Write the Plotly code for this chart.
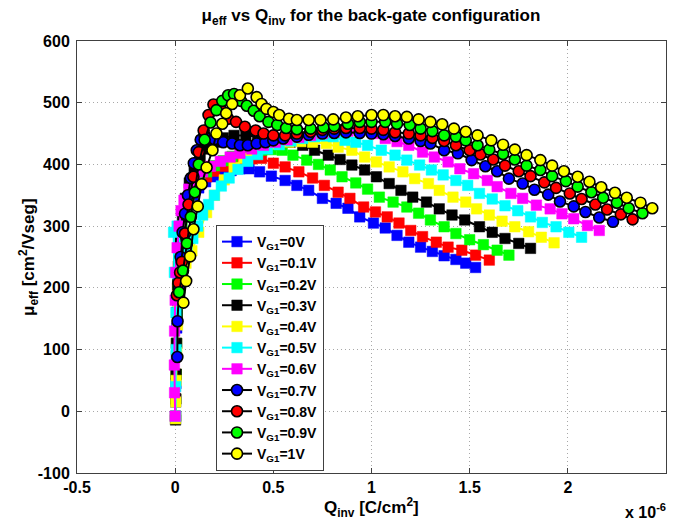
import plotly.graph_objects as go

# Inversion charge in units of 1e-6 C/cm^2, effective mobility in cm^2/Vs
q_0v = [0.002, 0.003, 0.004, 0.006, 0.008, 0.011, 0.015, 0.021, 0.03, 0.045, 0.065, 0.09, 0.12, 0.155, 0.195,
        0.24, 0.285, 0.33, 0.376, 0.43, 0.49, 0.56, 0.62, 0.68, 0.75, 0.82, 0.88, 0.94, 1.01, 1.07, 1.13, 1.19,
        1.25, 1.31, 1.37, 1.43, 1.48, 1.53]
mu_0v = [-8, 15, 45, 90, 135, 180, 220, 255, 288, 315, 335, 350, 362, 372, 380, 386, 390, 393, 393, 388, 381, 374,
         366, 358, 345, 337, 329, 315, 305, 297, 285, 274, 266, 259, 252, 246, 240, 233]

q_01v = [0.002, 0.003, 0.005, 0.007, 0.009, 0.012, 0.016, 0.022, 0.032, 0.047, 0.068, 0.094, 0.125, 0.16, 0.2,
         0.245, 0.29, 0.34, 0.39, 0.44, 0.5, 0.56, 0.63, 0.7, 0.76, 0.83, 0.89, 0.96, 1.02, 1.08, 1.14, 1.2, 1.26,
         1.33, 1.39, 1.46, 1.53, 1.6]
mu_01v = [-8, 20, 60, 110, 160, 200, 235, 265, 295, 320, 340, 355, 368, 380, 389, 397, 403, 407, 409, 410, 402,
          396, 388, 378, 366, 355, 345, 331, 323, 315, 305, 293, 283, 274, 266, 261, 253, 245]

q_02v = [0.002, 0.003, 0.005, 0.007, 0.01, 0.013, 0.018, 0.025, 0.035, 0.05, 0.07, 0.095, 0.125, 0.16, 0.2, 0.245,
         0.29, 0.34, 0.39, 0.44, 0.49, 0.545, 0.6, 0.67, 0.73, 0.79, 0.85, 0.92, 0.98, 1.04, 1.11, 1.18, 1.24, 1.3,
         1.37, 1.43, 1.5, 1.57, 1.64, 1.7]
mu_02v = [-8, 20, 60, 110, 160, 205, 240, 270, 300, 325, 345, 362, 376, 388, 398, 406, 413, 418, 421, 423, 424,
          423, 415, 407, 400, 391, 380, 370, 360, 347, 339, 331, 321, 310, 299, 288, 278, 270, 261, 253]

q_03v = [0.002, 0.003, 0.005, 0.007, 0.01, 0.014, 0.019, 0.026, 0.037, 0.052, 0.072, 0.097, 0.127, 0.16, 0.2,
         0.245, 0.3, 0.36, 0.42, 0.47, 0.53, 0.585, 0.65, 0.71, 0.78, 0.84, 0.9, 0.965, 1.025, 1.09, 1.15, 1.21,
         1.28, 1.345, 1.41, 1.475, 1.55, 1.615, 1.68, 1.75, 1.81]
mu_03v = [-14, 20, 60, 110, 160, 205, 245, 280, 315, 345, 370, 392, 410, 425, 436, 443, 447, 447, 445, 442, 439,
          436, 431, 423, 415, 408, 399, 391, 380, 369, 358, 347, 339, 328, 318, 310, 299, 290, 280, 272, 264]

q_04v = [0.002, 0.003, 0.005, 0.008, 0.012, 0.018, 0.026, 0.038, 0.055, 0.085, 0.12, 0.16, 0.2, 0.25, 0.3, 0.35,
         0.4, 0.46, 0.52, 0.58, 0.64, 0.7, 0.77, 0.83, 0.9, 0.965, 1.025, 1.09, 1.16, 1.22, 1.29, 1.345, 1.415,
         1.48, 1.535, 1.6, 1.665, 1.73, 1.8, 1.865, 1.93]
mu_04v = [-12, 15, 50, 95, 140, 175, 205, 225, 240, 260, 290, 322, 350, 375, 395, 410, 420, 428, 433, 436, 437,
          436, 434, 428, 423, 412, 404, 396, 388, 377, 369, 358, 347, 339, 328, 318, 308, 299, 291, 282, 273]

q_05v = [0.002, 0.003, 0.005, 0.004, -0.004, -0.008, 0.01, 0.03, 0.06, 0.09, 0.115, 0.14, 0.17, 0.2, 0.235, 0.275,
         0.32, 0.37, 0.42, 0.47, 0.53, 0.59, 0.65, 0.71, 0.76, 0.805, 0.865, 0.92, 0.98, 1.05, 1.12, 1.18, 1.245,
         1.305, 1.365, 1.43, 1.49, 1.55, 1.615, 1.68, 1.745, 1.81, 1.87, 1.94, 2.005, 2.07]
mu_05v = [-8, 40, 100, 160, 225, 290, 300, 260, 262, 280, 300, 318, 335, 350, 365, 378, 392, 405, 416, 425, 432,
          438, 442, 445, 446, 445, 439, 436, 431, 423, 415, 407, 399, 391, 383, 374, 366, 353, 344, 333, 325, 315,
          306, 299, 290, 282]

q_06v = [0.0, -0.003, -0.004, -0.003, 0.0, 0.003, 0.01, 0.02, 0.03, 0.045, 0.07, 0.1, 0.14, 0.18, 0.23, 0.28, 0.33,
         0.39, 0.45, 0.51, 0.57, 0.63, 0.69, 0.75, 0.81, 0.88, 0.94, 1.01, 1.07, 1.13, 1.19, 1.26, 1.32, 1.39, 1.45,
         1.52, 1.59, 1.64, 1.71, 1.77, 1.84, 1.91, 1.97, 2.03, 2.1, 2.16]
mu_06v = [-8, 30, 75, 130, 180, 225, 265, 300, 325, 342, 360, 375, 388, 397, 405, 412, 418, 425, 431, 436, 440,
          444, 447, 450, 452, 454, 455, 450, 442, 437, 431, 420, 412, 404, 393, 385, 374, 364, 353, 345, 334, 328,
          320, 312, 301, 293]

q_07v = [0.011, 0.012, 0.02, 0.028, 0.038, 0.05, 0.065, 0.08, 0.095, 0.11, 0.13, 0.15, 0.2, 0.245, 0.29, 0.33,
         0.37, 0.415, 0.46, 0.5, 0.55, 0.62, 0.68, 0.75, 0.81, 0.87, 0.94, 1.0, 1.06, 1.12, 1.19, 1.25, 1.3, 1.37,
         1.44, 1.51, 1.58, 1.64, 1.7, 1.77, 1.83, 1.9, 1.96, 2.03, 2.09, 2.16, 2.23]
mu_07v = [88, 146, 200, 250, 290, 320, 350, 378, 402, 423, 440, 447, 441, 436, 434, 431, 431, 434, 436, 439, 442,
          445, 448, 450, 451, 452, 451, 450, 449, 446, 442, 438, 434, 423, 418, 407, 397, 389, 377, 369, 359, 351,
          340, 332, 323, 314, 307]

q_08v = [0.009, 0.017, 0.025, 0.034, 0.05, 0.068, 0.093, 0.12, 0.145, 0.17, 0.195, 0.23, 0.27, 0.31, 0.355, 0.41,
         0.45, 0.5, 0.56, 0.62, 0.69, 0.75, 0.81, 0.87, 0.94, 1.0, 1.06, 1.12, 1.19, 1.25, 1.31, 1.37, 1.43, 1.5,
         1.555, 1.62, 1.68, 1.75, 1.81, 1.88, 1.94, 2.01, 2.07, 2.14, 2.2, 2.27, 2.33]
mu_08v = [188, 208, 225, 242, 288, 335, 380, 420, 455, 480, 497, 490, 474, 469, 461, 455, 450, 447, 447, 450, 453,
          456, 458, 459, 459, 458, 456, 452, 450, 447, 443, 438, 431, 423, 416, 408, 398, 389, 381, 371, 362, 353,
          344, 335, 327, 319, 311]

q_09v = [0.02, 0.04, 0.06, 0.08, 0.1, 0.12, 0.15, 0.18, 0.21, 0.24, 0.27, 0.3, 0.335, 0.365, 0.4, 0.43, 0.475,
         0.52, 0.565, 0.62, 0.69, 0.755, 0.81, 0.88, 0.94, 1.0, 1.07, 1.13, 1.195, 1.25, 1.31, 1.37, 1.43, 1.48,
         1.54, 1.6, 1.67, 1.73, 1.79, 1.86, 1.92, 1.99, 2.05, 2.12, 2.18, 2.25, 2.31, 2.38]
mu_09v = [193, 228, 272, 315, 355, 400, 440, 468, 488, 503, 512, 514, 503, 495, 487, 478, 469, 464, 459, 457, 458,
          460, 462, 466, 469, 469, 469, 466, 464, 458, 454, 447, 445, 439, 431, 424, 417, 408, 398, 391, 381, 373,
          364, 355, 346, 338, 329, 321]

q_1v = [0.042, 0.056, 0.076, 0.093, 0.115, 0.135, 0.16, 0.19, 0.21, 0.24, 0.26, 0.29, 0.33, 0.37, 0.415, 0.44,
        0.465, 0.5, 0.53, 0.58, 0.62, 0.68, 0.74, 0.805, 0.87, 0.93, 1.0, 1.06, 1.12, 1.18, 1.24, 1.3, 1.36, 1.42,
        1.48, 1.54, 1.61, 1.67, 1.73, 1.79, 1.86, 1.92, 1.98, 2.05, 2.11, 2.17, 2.24, 2.3, 2.37, 2.43]
mu_1v = [176, 211, 251, 295, 332, 368, 395, 423, 450, 466, 483, 498, 512, 523, 509, 498, 490, 485, 480, 474, 472,
         472, 472, 473, 476, 478, 480, 480, 478, 477, 473, 469, 465, 458, 453, 447, 439, 432, 424, 415, 407, 398,
         389, 380, 372, 363, 354, 346, 338, 329]

series_names = ["V<sub>G1</sub>=0V", "V<sub>G1</sub>=0.1V", "V<sub>G1</sub>=0.2V", "V<sub>G1</sub>=0.3V",
                "V<sub>G1</sub>=0.4V", "V<sub>G1</sub>=0.5V", "V<sub>G1</sub>=0.6V", "V<sub>G1</sub>=0.7V",
                "V<sub>G1</sub>=0.8V", "V<sub>G1</sub>=0.9V", "V<sub>G1</sub>=1V"]
series_q = [q_0v, q_01v, q_02v, q_03v, q_04v, q_05v, q_06v, q_07v, q_08v, q_09v, q_1v]
series_mu = [mu_0v, mu_01v, mu_02v, mu_03v, mu_04v, mu_05v, mu_06v, mu_07v, mu_08v, mu_09v, mu_1v]
series_colors = ["#0000ff", "#ff0000", "#00ff00", "#000000", "#ffff00", "#00ffff", "#ff00ff",
                 "#0000ff", "#ff0000", "#00ff00", "#ffff00"]

x_ticks = [-0.5, 0, 0.5, 1, 1.5, 2, 2.5]
x_tick_text = ["-0.5", "0", "0.5", "1", "1.5", "2", "2.5"]
y_ticks = [-100, 0, 100, 200, 300, 400, 500, 600]
y_tick_text = ["-100", "0", "100", "200", "300", "400", "500", "600"]

FONT = "Liberation Sans, Arial, Helvetica, sans-serif"

fig = go.Figure()
for i, (name, q, mu, col) in enumerate(zip(series_names, series_q, series_mu, series_colors)):
    circle = i >= 7
    fig.add_trace(go.Scatter(
        x=q, y=mu, mode="lines+markers", name="<b>" + name + "</b>",
        line=dict(color="#000000" if circle else col, width=2),
        marker=dict(
            symbol="circle" if circle else "square",
            size=11 if circle else 10.5,
            color=col,
            line=dict(color="#000000" if circle else col, width=1.6 if circle else 0.5),
        ),
    ))

axis_common = dict(
    showgrid=True, gridcolor="#a8a8a8", griddash="1px,3px", gridwidth=1,
    showline=True, linecolor="#404040", linewidth=1, mirror="ticks",
    ticks="inside", ticklen=5, tickcolor="#404040", zeroline=False,
    tickfont=dict(family=FONT, size=16, color="#000000", weight="bold"),
)

fig.update_layout(
    width=674, height=521,
    margin=dict(l=77, r=8, t=41, b=48),
    paper_bgcolor="#ffffff", plot_bgcolor="#ffffff",
    font=dict(family=FONT, color="#000000"),
    title=dict(text="<b>μ<sub>eff</sub> vs Q<sub>inv</sub> for the back-gate configuration</b>",
               x=371 / 674, xanchor="center", y=1 - 15 / 521, yanchor="middle", yref="container",
               font=dict(family=FONT, size=17, color="#000000")),
    xaxis=dict(range=[-0.5, 2.5], tickvals=x_ticks, ticktext=x_tick_text, **axis_common),
    yaxis=dict(range=[-100, 600], tickvals=y_ticks, ticktext=y_tick_text, ticklabelstandoff=3,
               **axis_common),
    showlegend=True,
    legend=dict(x=0.236, y=0.574, xanchor="left", yanchor="top",
                bgcolor="#ffffff", bordercolor="#404040", borderwidth=1,
                font=dict(family=FONT, size=14, color="#000000"),
                tracegroupgap=0, itemwidth=30),
)

# axis labels and the exponent note, positioned in pixels of the figure
plot_l, plot_r, plot_t, plot_b = 77, 666, 41, 473


def px_to_paper(px, py):
    return (px - plot_l) / (plot_r - plot_l), (plot_b - py) / (plot_b - plot_t)


ax, ay = px_to_paper(371, 507)
bx, by = px_to_paper(28, 257)
cx, cy = px_to_paper(645, 511)
fig.add_annotation(text="<b>Q<sub>inv</sub> [C/cm<sup>2</sup>]</b>", x=ax, y=ay, xref="paper", yref="paper",
                   xanchor="center", yanchor="middle", showarrow=False, font=dict(family=FONT, size=17))
fig.add_annotation(text="<b>μ<sub>eff</sub> [cm<sup>2</sup>/Vseg]</b>", x=bx, y=by, xref="paper", yref="paper",
                   xanchor="center", yanchor="middle", textangle=-90, showarrow=False,
                   font=dict(family=FONT, size=17))
fig.add_annotation(text="<b>x 10<sup>-6</sup></b>", x=cx, y=cy, xref="paper", yref="paper",
                   xanchor="center", yanchor="middle", showarrow=False, font=dict(family=FONT, size=16))

fig.write_html("out.html")
